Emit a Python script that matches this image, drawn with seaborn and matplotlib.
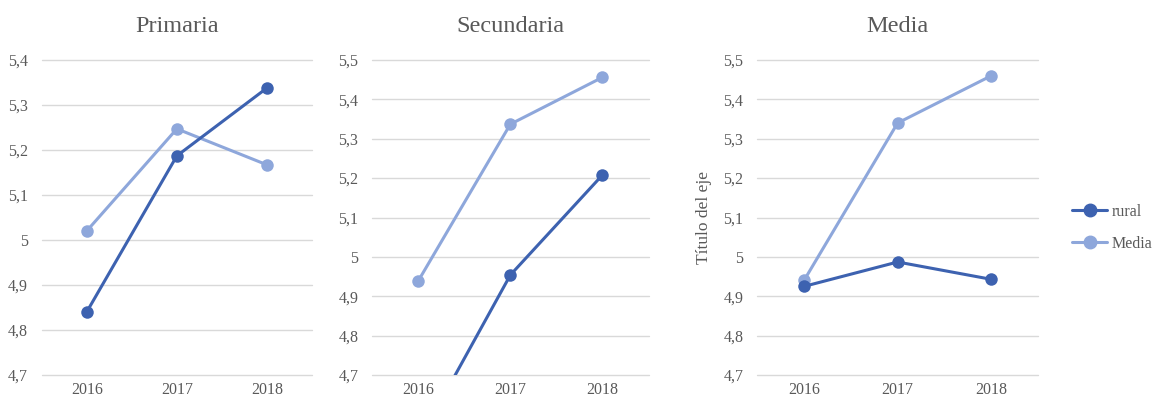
import pandas as pd
import numpy as np
import matplotlib
matplotlib.use("Agg")
import matplotlib.pyplot as plt
from matplotlib.ticker import FuncFormatter
from matplotlib.lines import Line2D
import seaborn as sns

years = ["2016", "2017", "2018"]
panels = ["Primaria", "Secundaria", "Media"]

rural_primaria = [4.84, 5.187, 5.338]
media_primaria = [5.02, 5.247, 5.167]
rural_secundaria = [4.53, 4.954, 5.208]
media_secundaria = [4.939, 5.337, 5.456]
rural_media = [4.925, 4.987, 4.943]
media_media = [4.94, 5.34, 5.46]

ylims = [(4.7, 5.4), (4.7, 5.5), (4.7, 5.5)]

DARK = "#3D62B0"
LIGHT = "#8EA7DB"
TXT = "#595959"


def fmt(v, pos):
    s = f"{v:.1f}"
    if s.endswith(".0"):
        s = s[:-2]
    return s.replace(".", ",")


def draw(ax, rural, media, title, ylim):
    df = pd.DataFrame({"year": years * 2,
                       "value": media + rural,
                       "serie": ["Media"] * 3 + ["rural"] * 3})
    sns.lineplot(data=df[df.serie == "Media"], x="year", y="value", ax=ax,
                 color=LIGHT, marker="o", markersize=9, markeredgewidth=0,
                 linewidth=2.2, sort=False)
    sns.lineplot(data=df[df.serie == "rural"], x="year", y="value", ax=ax,
                 color=DARK, marker="o", markersize=9, markeredgewidth=0,
                 linewidth=2.2, sort=False)
    ax.set_xlim(-0.5, 2.5)
    ax.set_ylim(*ylim)
    ax.set_yticks(np.arange(ylim[0], ylim[1] + 0.001, 0.1))
    ax.yaxis.set_major_formatter(FuncFormatter(fmt))
    ax.grid(axis="y", color="#D9D9D9", linewidth=1)
    ax.grid(axis="x", visible=False)
    for gl in ax.get_ygridlines():
        gl.set_clip_on(False)
    ax.set_axisbelow(True)
    for s in ax.spines.values():
        s.set_visible(False)
    ax.tick_params(length=0, colors=TXT, labelsize=11.5)
    ax.tick_params(axis="y", pad=10)
    ax.tick_params(axis="x", pad=5)
    ax.set_xlabel("")
    ax.set_ylabel("")
    ax.set_title(title, fontsize=17.5, color=TXT, pad=20)


sns.set_style("white")
plt.rcParams["font.family"] = ["Liberation Serif", "DejaVu Serif"]

fig = plt.figure(figsize=(11.56, 4), dpi=100)
ax1 = fig.add_axes([0.036, 0.0625, 0.234, 0.7875])
ax2 = fig.add_axes([0.322, 0.0625, 0.239, 0.7875])
ax3 = fig.add_axes([0.655, 0.0625, 0.243, 0.7875])

draw(ax1, rural_primaria, media_primaria, panels[0], ylims[0])
draw(ax2, rural_secundaria, media_secundaria, panels[1], ylims[1])
draw(ax3, rural_media, media_media, panels[2], ylims[2])
ax3.set_ylabel("Título del eje", fontsize=12.5, color=TXT, labelpad=8)

handles = [Line2D([], [], color=DARK, marker="o", markersize=9, linewidth=2.2),
           Line2D([], [], color=LIGHT, marker="o", markersize=9, linewidth=2.2)]
fig.legend(handles, ["rural", "Media"], loc="center left",
           bbox_to_anchor=(0.915, 0.43), frameon=False, fontsize=11.5,
           labelcolor=TXT, handlelength=2.2, handletextpad=0.3,
           labelspacing=1.0)

fig.savefig("out.png", dpi=100)
plt.close(fig)
